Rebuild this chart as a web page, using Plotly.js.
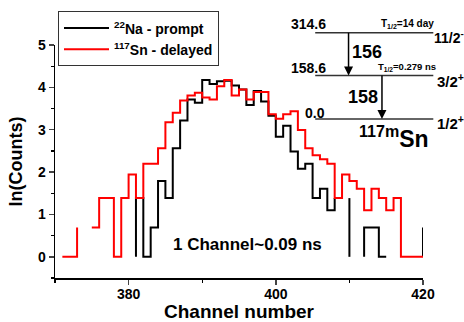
<!DOCTYPE html>
<html>
<head>
<meta charset="utf-8">
<script src="https://cdn.plot.ly/plotly-3.0.1.min.js"></script>
<style>html,body{margin:0;padding:0;background:#fff;}#chart{width:464px;height:322px;}</style>
</head>
<body>
<div id="chart"></div>
<script>
// 117Sn - delayed : ln(counts) per channel (null = no counts)
const redChannel = [371,372,373,374,375,376,377,378,379,380,381,382,383,384,385,386,387,388,389,390,391,392,393,394,395,396,397,398,399,400,401,402,403,404,405,406,407,408,409,410,411,412,413,414,415,416,417,418,419,420];
const redLnCounts = [0,0,0.693,null,0.693,1.386,1.386,0,1.386,1.946,1.386,2.197,2.197,2.565,3.178,3.401,3.689,3.807,3.871,3.761,3.714,4.025,4.174,3.807,3.951,3.714,3.892,3.892,3.367,3.258,3.367,3.434,2.996,2.565,2.398,2.303,2.197,1.386,1.946,1.792,1.609,1.099,1.609,1.386,1.099,1.386,0,0,0,0];

// 22Na - prompt : ln(counts) per channel (null = no counts)
const blackChannel = [381,381,382,383,384,385,386,387,388,389,390,391,392,393,394,395,396,397,398,399,400,401,402,403,404,405,406,407,408,409,410,410,411,412,412,413,414,415,416,420,420];
const blackLnCounts = [0,1.386,0,0.693,1.792,1.386,2.565,3.219,3.714,3.638,4.174,4.078,4.143,4.159,4.043,3.951,3.584,3.912,3.664,3.332,2.833,3.091,2.485,2.079,2.197,1.386,1.609,1.099,1.386,null,0,1.386,null,0,0.693,0.693,0,0,null,0,0.693];

const seriesNames = ['<b><sup>22</sup>Na - prompt</b>', '<b><sup>117</sup>Sn - delayed</b>'];
const xTickVals = [380, 400, 420];
const yTickVals = [0, 1, 2, 3, 4, 5];

const FONT = 'Liberation Sans, Arial, sans-serif';

const traces = [
  {x: blackChannel, y: blackLnCounts, name: seriesNames[0], mode: 'lines',
   line: {shape: 'hv', color: '#000000', width: 2}, connectgaps: false},
  {x: redChannel, y: redLnCounts, name: seriesNames[1], mode: 'lines',
   line: {shape: 'hv', color: '#ff0000', width: 2}, connectgaps: false}
];

const L = 55, R = 422.7, T = 36.7, B = 278;
const W = R - L, H = B - T;
const px = v => (v - L) / W;
const py = v => (B - v) / H;

function txt(text, x, y, size, xanchor) {
  return {text: text, xref: 'paper', yref: 'paper', x: px(x), y: py(y),
    xanchor: xanchor || 'left', yanchor: 'middle', showarrow: false,
    font: {family: FONT, size: size, color: '#000', weight: 'bold'}};
}
function arrow(x, yTail, yHead) {
  return {text: '', xref: 'paper', yref: 'paper', x: px(x), y: py(yHead),
    ax: 0, ay: -(yHead - yTail), showarrow: true, arrowhead: 2, arrowsize: 1.2,
    arrowwidth: 1.5, arrowcolor: '#000', standoff: 0, startstandoff: 0};
}
function level(y) {
  return {type: 'line', xref: 'paper', yref: 'paper', x0: px(315), x1: px(433),
    y0: py(y), y1: py(y), line: {color: '#333', width: 1.5}};
}

const layout = {
  width: 464, height: 322,
  margin: {l: L, r: 464 - R, t: T, b: 322 - B, pad: 0},
  paper_bgcolor: '#fff', plot_bgcolor: '#fff',
  showlegend: true,
  legend: {x: px(58), y: py(2), xanchor: 'left', yanchor: 'top',
    bgcolor: '#fff', bordercolor: '#333', borderwidth: 1, itemwidth: 45,
    font: {family: FONT, size: 14, color: '#000'}, tracegroupgap: 0},
  xaxis: {range: [370, 420], tickvals: xTickVals, ticks: 'outside', ticklen: 5, tickwidth: 1.5,
    minor: {dtick: 10, tick0: 370, ticks: 'outside', ticklen: 3, tickwidth: 1.2, tickcolor: '#000'},
    showline: true, linecolor: '#000', linewidth: 1.5, showgrid: false, zeroline: false,
    ticklabelstandoff: -2,
    tickfont: {family: FONT, size: 14, color: '#000', weight: 'bold'},
    title: {text: 'Channel number', standoff: 6, font: {family: FONT, size: 19, color: '#000', weight: 'bold'}}},
  yaxis: {range: [-0.5, 5], tickvals: yTickVals, ticks: 'outside', ticklen: 5, tickwidth: 1.5,
    minor: {dtick: 0.5, tick0: 0, ticks: 'outside', ticklen: 3, tickwidth: 1.2, tickcolor: '#000'},
    showline: true, linecolor: '#000', linewidth: 1.5, showgrid: false, zeroline: false,
    tickfont: {family: FONT, size: 14, color: '#000', weight: 'bold'},
    title: {text: 'ln(Counts)', standoff: 10, font: {family: FONT, size: 18, color: '#000', weight: 'bold'}}},
  shapes: [level(24), level(68.3), level(113.3)],
  annotations: [
    {text: '1 Channel~0.09 ns', xref: 'x', yref: 'y', x: 396.1, y: 0.3, showarrow: false,
     font: {family: FONT, size: 17, color: '#000', weight: 'bold'}},
    txt('314.6', 289, 14.5, 14),
    txt('T<sub>1/2</sub>=14 day', 379, 15, 10),
    txt('11/2<sup>-</sup>', 432, 28, 14),
    arrow(348.3, 24, 68.3),
    txt('156', 366.7, 44, 18, 'center'),
    txt('158.6', 289, 61, 14),
    txt('T<sub>1/2</sub>=0.279 ns', 376, 60, 9.5),
    txt('3/2<sup>+</sup>', 435, 73, 15),
    arrow(381.7, 68.3, 113.3),
    txt('158', 362.5, 91, 18, 'center'),
    txt('0.0', 303, 107.5, 14),
    txt('1/2<sup>+</sup>', 435, 117, 15),
    txt('<sup>117m</sup>Sn', 394, 132, 23, 'center')
  ]
};

Plotly.newPlot('chart', traces, layout, {staticPlot: true, displayModeBar: false});
</script>
</body>
</html>
